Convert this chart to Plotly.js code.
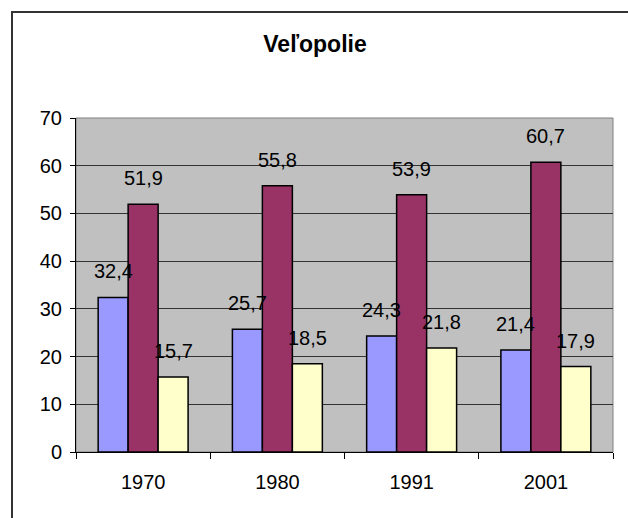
<!DOCTYPE html>
<html>
<head>
<meta charset="utf-8">
<script src="https://cdn.plot.ly/plotly-3.0.1.min.js"></script>
<style>
  body { margin: 0; overflow: hidden; background: #fff; }
  #chart { width: 628px; height: 518px; position: relative; }
  #frame { position: absolute; left: 11px; top: 11px; width: 700px; height: 600px;
           border: 2px solid #333; pointer-events: none; }
</style>
</head>
<body>
<div id="chart"></div>
<div id="frame"></div>
<script>
const years = ["1970", "1980", "1991", "2001"];
const serie1 = [32.4, 25.7, 24.3, 21.4];
const serie2 = [51.9, 55.8, 53.9, 60.7];
const serie3 = [15.7, 18.5, 21.8, 17.9];
const yTicks = [0, 10, 20, 30, 40, 50, 60, 70];

const farby = ["#9999FF", "#993366", "#FFFFCC"];
const serie = [serie1, serie2, serie3];
const bargap = 0.33;
const barw = (1 - bargap) / 3;

const fmt = v => v.toFixed(1).replace(".", ",");

var data = serie.map((s, k) => ({
   type: "bar",
   x: years,
   y: s,
   marker: { color: farby[k], line: { color: "#000", width: 1.5 } },
   hoverinfo: "none",
}));

var annotations = [];
serie.forEach((s, k) => {
   s.forEach((v, i) => {
      annotations.push({
         x: i + (k - 1) * barw,
         y: v,
         xref: "x",
         yref: "y",
         text: fmt(v),
         showarrow: false,
         yshift: 26,
         yanchor: "middle",
         font: { family: "Liberation Sans, Arial", size: 20, color: "#000" },
      });
   });
});

var layout = {
   width: 628,
   height: 518,
   margin: { l: 76, r: 15, t: 118, b: 66 },
   paper_bgcolor: "rgba(0,0,0,0)",
   plot_bgcolor: "#C0C0C0",
   showlegend: false,
   barmode: "group",
   bargap: bargap,
   bargroupgap: 0,
   font: { family: "Liberation Sans, Arial", size: 20, color: "#000" },
   title: {
      text: "<b>Veľopolie</b>",
      x: 315 / 628,
      xref: "container",
      xanchor: "center",
      y: 1 - 44 / 518,
      yanchor: "middle",
      font: { size: 23 },
   },
   xaxis: {
      type: "category",
      showline: true,
      linecolor: "#000",
      linewidth: 1,
      ticks: "outside",
      tickson: "boundaries",
      ticklen: 6,
      tickcolor: "#000",
      showgrid: false,
      tickfont: { size: 20 },
      ticklabelstandoff: 12,
   },
   yaxis: {
      range: [0, 70],
      tickvals: yTicks,
      showline: true,
      linecolor: "#000",
      linewidth: 1,
      ticks: "outside",
      ticklen: 5,
      tickcolor: "#000",
      gridcolor: "#333",
      gridwidth: 1,
      zeroline: false,
      tickfont: { size: 20 },
      ticklabelstandoff: 4,
   },
   shapes: [
      {
         type: "rect", xref: "paper", yref: "paper",
         x0: 0, x1: 1, y0: 0, y1: 1,
         line: { color: "#808080", width: 1 },
         layer: "below",
      },
   ],
   annotations: annotations,
};

Plotly.newPlot("chart", data, layout, { staticPlot: true });
</script>
</body>
</html>
